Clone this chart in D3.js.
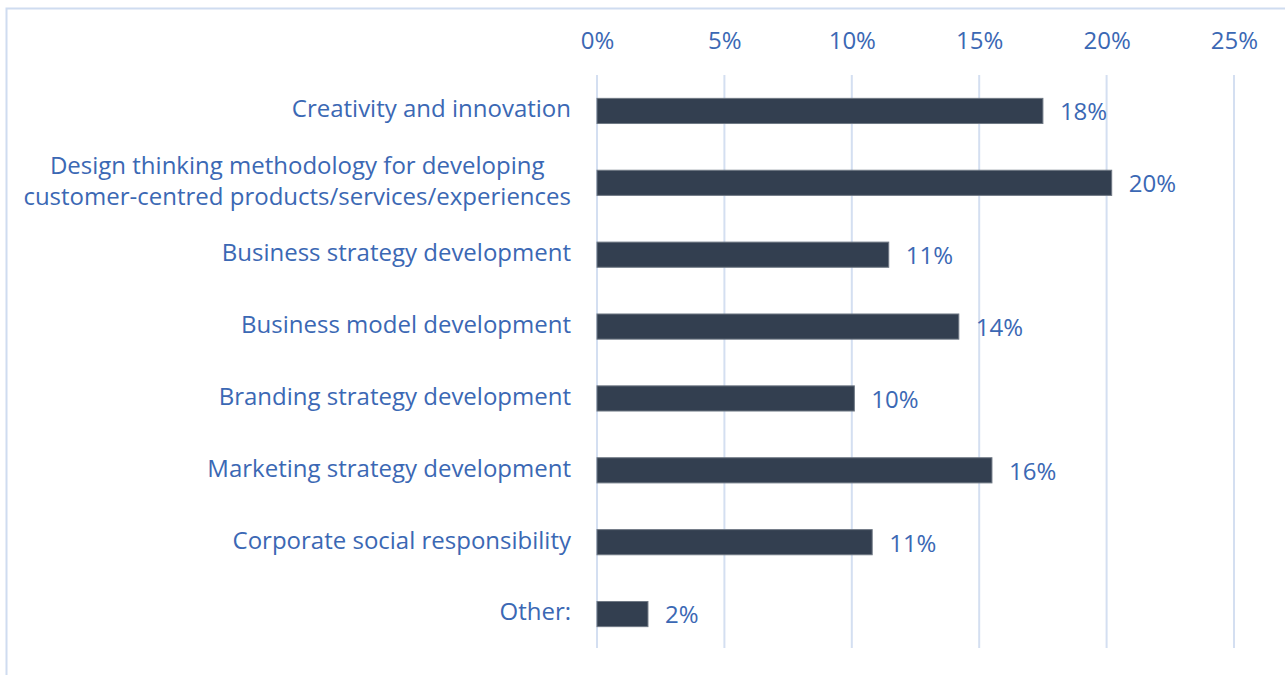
<!DOCTYPE html>
<html>
<head>
<meta charset="utf-8">
<script src="https://cdn.jsdelivr.net/npm/d3@7"></script>
<style>
  body { margin: 0; background: #fff; }
  svg { display: block; font-family: "Open Sans", sans-serif; }
</style>
</head>
<body>
<svg id="chart"></svg>
<script>
// data
const categories = [
    ["Creativity and innovation"],
    ["Design thinking methodology for developing", "customer-centred products/services/experiences"],
    ["Business strategy development"],
    ["Business model development"],
    ["Branding strategy development"],
    ["Marketing strategy development"],
    ["Corporate social responsibility"],
    ["Other:"]
];
const values = [17.5, 20.2, 11.45, 14.2, 10.1, 15.5, 10.8, 2.0];
const valueLabels = ["18%", "20%", "11%", "14%", "10%", "16%", "11%", "2%"];
const ticks = [0, 5, 10, 15, 20, 25];

const width = 1285;
const height = 675;
const textColor = "#3b68b4";
const fontSize = "24px";

const svg = d3.select("#chart")
    .attr("width", width)
    .attr("height", height);

// frame
svg.append("path")
    .attr("d", `M6.5,${height} V8.5 H${width}`)
    .attr("fill", "none")
    .attr("stroke", "#cfdcf0")
    .attr("stroke-width", 2);

const x = d3.scaleLinear().domain([0, 25]).range([597, 1234]);
const y = d3.scaleBand()
    .domain(d3.range(categories.length))
    .range([75, 650])
    .paddingInner(0.65)
    .paddingOuter(0.325);

// grid
svg.append("g")
    .selectAll("line")
    .data(ticks)
    .join("line")
    .attr("x1", d => x(d))
    .attr("x2", d => x(d))
    .attr("y1", 75)
    .attr("y2", 648)
    .attr("stroke", "#d4dff1")
    .attr("stroke-width", 2);

// top axis labels
const axis = d3.axisTop(x).tickValues(ticks).tickFormat(d => d + "%").tickSize(0);
const gAxis = svg.append("g")
    .attr("transform", "translate(0,52)")
    .call(axis);
gAxis.select(".domain").remove();
gAxis.selectAll("text")
    .attr("fill", textColor)
    .style("font-size", fontSize)
    .style("font-family", "'Open Sans', sans-serif");

// bars
svg.append("g")
    .selectAll("rect")
    .data(values)
    .join("rect")
    .attr("x", x(0))
    .attr("y", (d, i) => y(i))
    .attr("width", d => x(d) - x(0))
    .attr("height", y.bandwidth())
    .attr("fill", "#333f50")
    .attr("stroke", "#6f7884")
    .attr("stroke-width", 1);

// value labels
svg.append("g")
    .selectAll("text")
    .data(values)
    .join("text")
    .attr("x", d => x(d) + 17)
    .attr("y", (d, i) => y(i) + y.bandwidth() / 2 + 1)
    .attr("dy", "0.35em")
    .attr("fill", textColor)
    .style("font-size", fontSize)
    .text((d, i) => valueLabels[i]);

// category labels (multi-line blocks are centred on their widest line)
const catG = svg.append("g");
const rightEdge = 571;
categories.forEach((lines, i) => {
    const cy = y(i) + y.bandwidth() / 2;
    const lh = 31;
    const t = catG.append("text")
        .attr("fill", textColor)
        .style("font-size", fontSize);
    const spans = lines.map((line, j) => t.append("tspan")
        .attr("y", cy - 2 + (j - (lines.length - 1) / 2) * lh)
        .attr("dy", "0.35em")
        .text(line));
    if (lines.length === 1) {
        t.attr("text-anchor", "end");
        spans[0].attr("x", rightEdge);
    } else {
        const maxW = d3.max(spans, s => s.node().getComputedTextLength());
        t.attr("text-anchor", "middle");
        spans.forEach(s => s.attr("x", rightEdge - maxW / 2));
    }
});
</script>
</body>
</html>
